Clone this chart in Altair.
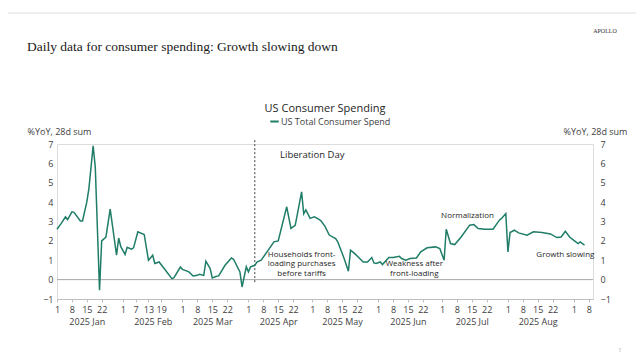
import altair as alt
import pandas as pd

# ---- data ----
day_index = [0, 2, 4, 5, 7, 8, 11, 12, 14, 15, 17, 18, 20, 21, 23, 25, 28, 29, 30, 32,
             33, 35, 36, 38, 41, 43, 45, 46, 48, 51, 54, 55, 58, 59, 62, 64, 66, 67, 69, 70,
             72, 73, 75, 76, 79, 82, 83, 86, 87, 89, 90, 91, 93, 94, 96, 102, 104, 108, 110, 112,
             115, 116, 117, 119, 121, 123, 124, 126, 128, 131, 132, 135, 137, 138, 140, 144, 146, 148, 149, 150,
             152, 153, 156, 158, 161, 162, 164, 166, 169, 171, 174, 178, 180, 182, 183, 185, 187, 190, 194, 196,
             198, 201, 205, 208, 209, 211, 212, 213, 215, 217, 221, 224, 228, 232, 235, 237, 239, 241, 243, 245,
             246, 248]
spend_yoy = [2.6, 2.9, 3.24, 3.1, 3.5, 3.47, 3.03, 3.03, 4.0, 4.7, 6.9, 5.8, -0.55, 2.0, 2.2, 3.64, 1.26, 2.15, 1.7, 1.3,
             1.67, 1.57, 1.64, 2.47, 2.33, 1.0, 1.26, 0.83, 0.91, 0.48, 0.05, 0.1, 0.65, 0.53, 0.4, 0.19, 0.22, 0.28, 0.22, 0.95,
             0.57, 0.09, 0.17, 0.19, 0.74, 1.12, 1.05, 0.4, -0.38, 0.66, 0.4, 0.66, 0.74, 0.91, 1.0, 1.95, 2.0, 3.76, 2.64, 2.8,
             4.53, 3.4, 3.6, 3.16, 3.24, 3.12, 3.05, 2.75, 2.3, 2.12, 1.95, 1.09, 0.43, 1.52, 1.34, 0.91, 0.91, 1.14, 0.86, 0.83,
             0.91, 0.78, 1.14, 1.14, 1.2, 1.09, 1.0, 1.09, 1.12, 1.43, 1.64, 1.69, 1.6, 1.0, 2.6, 1.86, 1.81, 2.2, 2.81, 2.84,
             2.64, 2.6, 2.6, 3.07, 3.16, 3.41, 1.43, 2.43, 2.55, 2.41, 2.29, 2.47, 2.43, 2.36, 2.17, 2.2, 2.5, 2.2, 2.03, 1.86,
             1.95, 1.78]
series_name = "US Total Consumer Spend"

day_ticks = ["2025-01-01", "2025-01-08", "2025-01-15", "2025-01-22",
             "2025-02-01", "2025-02-07", "2025-02-13", "2025-02-19",
             "2025-03-01", "2025-03-08", "2025-03-15", "2025-03-22",
             "2025-04-01", "2025-04-08", "2025-04-15", "2025-04-22",
             "2025-05-01", "2025-05-08", "2025-05-15", "2025-05-22",
             "2025-06-01", "2025-06-08", "2025-06-15", "2025-06-22",
             "2025-07-01", "2025-07-08", "2025-07-15", "2025-07-22",
             "2025-08-01", "2025-08-08", "2025-08-15", "2025-08-22",
             "2025-09-01", "2025-09-08"]
month_label_dates = ["2025-01-15", "2025-02-15", "2025-03-15", "2025-04-15",
                     "2025-05-15", "2025-06-15", "2025-07-15", "2025-08-15"]
y_ticks = [-1, 0, 1, 2, 3, 4, 5, 6, 7]
liberation_day = "2025-04-04"

ann_text = ["Liberation Day", "Households front-", "loading purchases", "before tariffs",
            "Weakness after", "front-loading", "Normalization", "Growth slowing"]
ann_date = ["2025-05-01", "2025-04-26", "2025-04-26", "2025-04-26",
            "2025-06-18", "2025-06-18", "2025-07-13", "2025-08-28"]
ann_value = [6.44, 1.29, 0.8, 0.31, 0.82, 0.31, 3.3, 1.29]
ann_size = [9.5, 8, 8, 8, 8, 8, 8, 8]

# ---- build tables ----
start = pd.Timestamp("2025-01-01")
df = pd.DataFrame({
    "date": [start + pd.Timedelta(days=d) for d in day_index],
    "value": spend_yoy,
    "series": series_name,
})
ann = pd.DataFrame({"date": pd.to_datetime(ann_date), "value": ann_value,
                    "text": ann_text, "size": ann_size})


def dt(s):
    t = pd.Timestamp(s)
    return alt.DateTime(year=t.year, month=t.month, date=t.day)


W, H = 536, 155
x_dom = [dt("2025-01-01"), dt("2025-09-10")]
xscale = alt.Scale(domain=x_dom)
yscale = alt.Scale(domain=[-1, 7], nice=False)
FONT = "Open Sans"
LINE_COLOR = "#1f7d68"
TXT = "#404040"

base = alt.Chart(df)

line = base.mark_line(strokeWidth=1.5, clip=False).encode(
    x=alt.X("date:T", scale=xscale, title=None,
            axis=alt.Axis(values=[dt(s) for s in day_ticks], format="%-d",
                          labelFont=FONT, labelFontSize=9, labelColor=TXT,
                          domainColor="#bfbfbf", tickColor="#bfbfbf", tickSize=3,
                          labelPadding=3, grid=False, labelFlush=False, labelOverlap=False)),
    y=alt.Y("value:Q", scale=yscale,
            axis=alt.Axis(values=y_ticks, orient="left", title="%YoY, 28d sum", titleAngle=0,
                          titleX=2, titleY=-13, titleAlign="center", titleBaseline="middle",
                          titleFont=FONT, titleFontSize=9, titleFontWeight="normal", titleColor=TXT,
                          labelFont=FONT, labelFontSize=9, labelColor=TXT, labelPadding=4,
                          domain=False, ticks=False, grid=False)),
    color=alt.Color("series:N", scale=alt.Scale(domain=[series_name], range=[LINE_COLOR]),
                    legend=alt.Legend(orient="none", legendX=212, legendY=-28, title=None,
                                      symbolType="stroke", symbolSize=70, symbolStrokeWidth=2,
                                      labelFont=FONT, labelFontSize=9, labelColor=TXT,
                                      labelOffset=1, padding=0)),
)

# second axis layer: month labels + right y axis
month_axis = alt.Chart(pd.DataFrame({"date": pd.to_datetime(month_label_dates),
                                     "value": [0] * len(month_label_dates)})).mark_point(opacity=0).encode(
    x=alt.X("date:T", scale=xscale, title=None,
            axis=alt.Axis(values=[dt(s) for s in month_label_dates], format="2025 %b", orient="bottom",
                          labelFont=FONT, labelFontSize=9, labelColor=TXT, domain=False, ticks=False,
                          labelPadding=18, grid=False, labelFlush=False, labelOverlap=False)),
    y=alt.Y("value:Q", scale=yscale,
            axis=alt.Axis(values=y_ticks, orient="right", title="%YoY, 28d sum", titleAngle=0,
                          titleX=2, titleY=-13, titleAlign="center", titleBaseline="middle",
                          titleFont=FONT, titleFontSize=9, titleFontWeight="normal", titleColor=TXT,
                          labelFont=FONT, labelFontSize=9, labelColor=TXT, labelPadding=7,
                          domain=False, ticks=False, grid=False)),
)

zero_rule = alt.Chart(pd.DataFrame({"v": [0]})).mark_rule(color="#a6a6a6", strokeWidth=1).encode(
    y=alt.Y("v:Q", scale=yscale, axis=None))

lib_rule = alt.Chart(pd.DataFrame({"date": [pd.Timestamp(liberation_day)], "top": [7.2], "bot": [-0.2]})).mark_rule(
    color="#404040", strokeWidth=1, strokeDash=[2, 2], clip=False).encode(
    x=alt.X("date:T", scale=xscale, axis=None), y=alt.Y("top:Q", scale=yscale, axis=None), y2="bot:Q")

ann_layer = alt.Chart(ann).mark_text(font=FONT, color="#262626", align="center", baseline="middle").encode(
    x=alt.X("date:T", scale=xscale, axis=None), y=alt.Y("value:Q", scale=yscale, axis=None), text="text:N",
    size=alt.Size("size:Q", scale=None, legend=None))

# slide furniture (positions relative to the plot area's origin)
frame = alt.Chart(pd.DataFrame({"a": [0]})).mark_rect(fill=None, stroke="#dcdcdc", strokeWidth=1).encode(
    x=alt.value(-51), x2=alt.value(584), y=alt.value(-131), y2=alt.value(230))
slide_title = alt.Chart(pd.DataFrame({"t": ["Daily data for consumer spending: Growth slowing down"]})).mark_text(
    font="Liberation Serif", fontSize=13.5, align="left", baseline="middle", color="#1a1a1a").encode(
    x=alt.value(-30), y=alt.value(-97), text="t:N")
apollo = alt.Chart(pd.DataFrame({"t": ["APOLLO"]})).mark_text(
    font="Liberation Serif", fontSize=6, align="center", baseline="middle", color="#333333").encode(
    x=alt.value(548), y=alt.value(-113), text="t:N")
chart_title = alt.Chart(pd.DataFrame({"t": ["US Consumer Spending"]})).mark_text(
    font=FONT, fontSize=11, align="center", baseline="middle", color="#262626").encode(
    x=alt.value(268), y=alt.value(-35), text="t:N")
page_no = alt.Chart(pd.DataFrame({"t": ["1"]})).mark_text(
    font=FONT, fontSize=5, align="center", baseline="middle", color="#999999").encode(
    x=alt.value(563), y=alt.value(206), text="t:N")

chart = alt.layer(frame, zero_rule, lib_rule, line, month_axis, ann_layer,
                  slide_title, apollo, chart_title, page_no).resolve_axis(
    x="independent", y="independent").properties(
    width=W, height=H,
    autosize=alt.AutoSizeParams(type="none"),
    padding={"left": 49, "top": 136, "right": 43, "bottom": 55},
).configure_view(stroke=None).configure(background="white")

chart.save("out.html", embed_options={"renderer": "svg", "actions": False})
